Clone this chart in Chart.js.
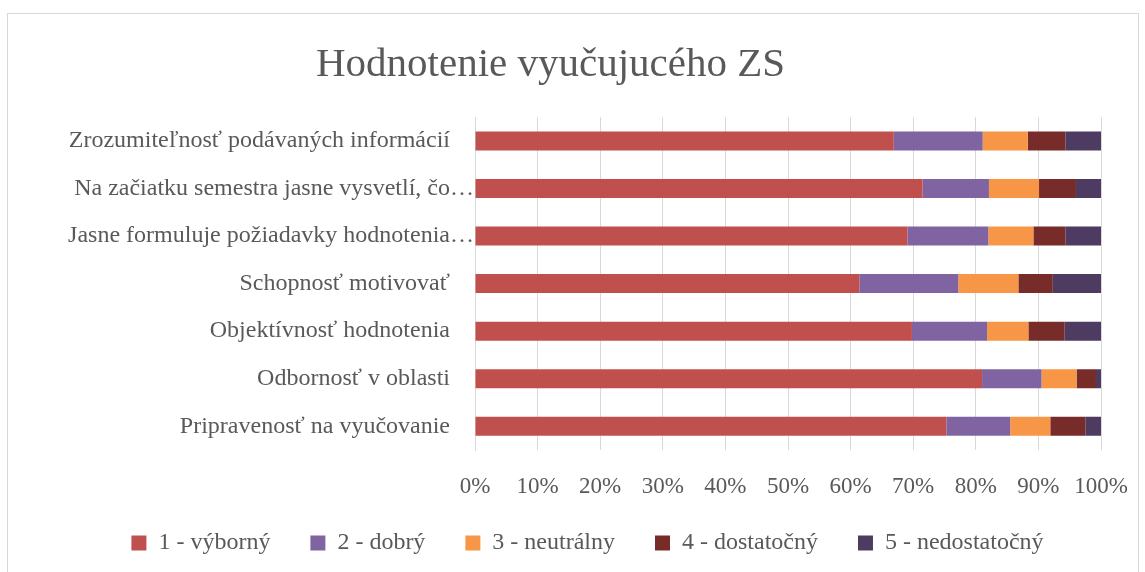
<!DOCTYPE html>
<html>
<head>
<meta charset="utf-8">
<script src="https://cdn.jsdelivr.net/npm/chart.js@4"></script>
<style>
  html, body { margin: 0; padding: 0; background: #fff; }
  #wrap { position: relative; width: 1145px; height: 572px; }
  #frame { position: absolute; left: 7px; top: 13px; width: 1130px; height: 570px; border: 1px solid #d9d9d9; pointer-events: none; }
</style>
</head>
<body>
<div id="wrap">
  <canvas id="chart" width="1145" height="572"></canvas>
  <div id="frame"></div>
</div>
<script>
// categories (top to bottom, as shown)
const categories = [
    'Zrozumiteľnosť podávaných informácií',
    'Na začiatku semestra jasne vysvetlí, čo…',
    'Jasne formuluje požiadavky hodnotenia…',
    'Schopnosť motivovať',
    'Objektívnosť hodnotenia',
    'Odbornosť v oblasti',
    'Pripravenosť na vyučovanie'
];

const seriesNames = ['1 - výborný', '2 - dobrý', '3 - neutrálny', '4 - dostatočný', '5 - nedostatočný'];
const seriesColors = ['#C0504D', '#8064A2', '#F79646', '#772C2A', '#4D3B62'];

// percent shares
const vyborny      = [66.9, 71.5, 69.1, 61.4, 69.8, 81.0, 75.3];
const dobry        = [14.2, 10.6, 12.9, 15.8, 12.0,  9.5, 10.2];
const neutralny    = [ 7.2,  8.0,  7.2,  9.6,  6.6,  5.6,  6.4];
const dostatocny   = [ 6.0,  5.9,  5.1,  5.5,  5.8,  3.1,  5.6];
const nedostatocny = [ 5.7,  4.0,  5.7,  7.7,  5.8,  0.8,  2.5];

const xTicks = [0, 10, 20, 30, 40, 50, 60, 70, 80, 90, 100];

const FONT = "'Liberation Serif', 'Times New Roman', serif";
const TEXT = '#595959';

const seriesData = [vyborny, dobry, neutralny, dostatocny, nedostatocny];

// legend: a bit tighter vertically and a bit right of centre, like the original
const legendTweak = {
    id: 'legendTweak',
    afterInit(chart) {
        const lg = chart.legend;
        const fit = lg.fit;
        lg.fit = function() { fit.call(this); this.height -= 10; };
    },
    afterLayout(chart) {
        chart.legend.left += 74;
        chart.legend.top -= 10;
    }
};

const ctx = document.getElementById('chart').getContext('2d');
new Chart(ctx, {
    type: 'bar',
    data: {
        labels: categories,
        datasets: seriesNames.map((name, i) => ({
            label: name,
            data: seriesData[i],
            backgroundColor: seriesColors[i],
            borderWidth: 0,
            barPercentage: 0.4,
            categoryPercentage: 1
        }))
    },
    options: {
        indexAxis: 'y',
        responsive: false,
        animation: false,
        layout: { padding: { left: 0, right: 44, top: 0, bottom: 7 } },
        scales: {
            x: {
                stacked: true,
                min: 0,
                max: 100,
                afterBuildTicks: (scale) => { scale.ticks = xTicks.map(v => ({ value: v })); },
                afterFit: (scale) => {
                    scale.paddingLeft = 0;
                    scale.paddingRight = 0;
                    scale.height = 51;
                },
                ticks: {
                    callback: (v) => v + '%',
                    color: TEXT,
                    font: { family: FONT, size: 23 },
                    padding: 23,
                    maxRotation: 0
                },
                grid: { color: '#d9d9d9', lineWidth: 1, drawTicks: false },
                border: { display: false }
            },
            y: {
                stacked: true,
                afterFit: (scale) => { scale.width = 475; },
                ticks: {
                    color: TEXT,
                    font: { family: FONT, size: 24 },
                    padding: 1,
                    callback: function(v) {
                        const l = this.getLabelForValue(v);
                        return l.endsWith('…') ? l : l + '    ';
                    }
                },
                grid: { display: false, drawTicks: false },
                border: { display: true, color: '#d9d9d9', width: 1 }
            }
        },
        plugins: {
            title: {
                display: true,
                text: 'Hodnotenie vyučujucého ZS',
                color: TEXT,
                font: { family: FONT, size: 41, weight: 'normal' },
                padding: { top: 41, bottom: 27 }
            },
            legend: {
                position: 'bottom',
                labels: {
                    color: TEXT,
                    font: { family: FONT, size: 24 },
                    boxWidth: 15,
                    boxHeight: 15,
                    padding: 40
                }
            },
            tooltip: { enabled: false }
        }
    },
    plugins: [legendTweak]
});
</script>
</body>
</html>
